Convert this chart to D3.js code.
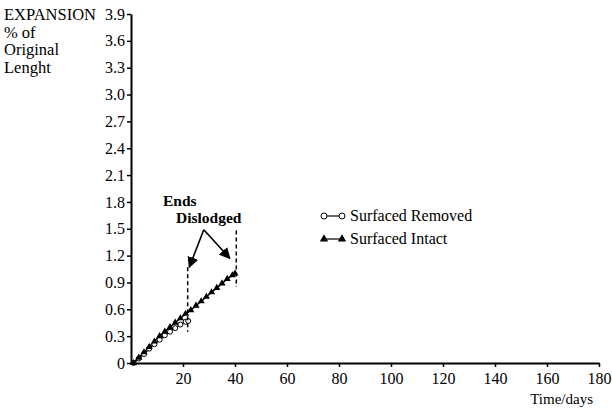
<!DOCTYPE html>
<html>
<head>
<meta charset="utf-8">
<script src="https://d3js.org/d3.v7.min.js"></script>
<style>
  body { margin: 0; background: #fff; }
</style>
</head>
<body>
<svg width="612" height="412" font-family="Liberation Serif"></svg>
<script>
// data
var removedDays = [1, 3, 5, 7, 9, 11, 13, 15, 17, 19, 21, 22];
var removedExp  = [0, 0.05, 0.10, 0.16, 0.21, 0.26, 0.31, 0.35, 0.39, 0.43, 0.46, 0.47];
var intactDays  = [1, 3, 5, 7, 9, 11, 13, 15, 17, 19, 21, 23, 25, 27, 29, 31, 33, 35, 37, 39, 40];
var intactExp   = [0, 0.06, 0.12, 0.18, 0.24, 0.30, 0.35, 0.40, 0.45, 0.50, 0.55, 0.59, 0.64, 0.69, 0.74, 0.79, 0.84, 0.89, 0.94, 0.98, 1.00];
var xTicks = [20, 40, 60, 80, 100, 120, 140, 160, 180];
var yTicks = [0, 0.3, 0.6, 0.9, 1.2, 1.5, 1.8, 2.1, 2.4, 2.7, 3.0, 3.3, 3.6, 3.9];
// "ends dislodged" markers: dashed drops and arrows
var dropDays = [21.8, 40.5];
var dropTop  = [1.07, 1.48];
var dropBot  = [0.35, 0.85];
var arrowApex = [28, 1.49];
var arrowEnds = [[22.4, 1.07], [38, 1.17]];
var yLabelLines = ["EXPANSION", "% of", "Original", "Lenght"];

var svg = d3.select("svg");
var x = d3.scaleLinear().domain([0, 180]).range([131, 599]);
var y = d3.scaleLinear().domain([0, 3.9]).range([363, 14]);
var serif = "Liberation Serif";

svg.append("defs").append("marker")
  .attr("id", "ah").attr("viewBox", "0 0 10 10")
  .attr("refX", 9).attr("refY", 5)
  .attr("markerWidth", 7).attr("markerHeight", 7)
  .attr("orient", "auto")
  .append("path").attr("d", "M0,0L10,5L0,10Z").attr("fill", "#000");

// axes
var xAxis = svg.append("g").attr("transform", "translate(0," + y(0) + ")")
  .call(d3.axisBottom(x).tickValues(xTicks).tickSizeOuter(0).tickSizeInner(4).tickPadding(6));
var yAxis = svg.append("g").attr("transform", "translate(" + x(0) + ",0)")
  .call(d3.axisLeft(y).tickValues(yTicks).tickSizeOuter(0).tickSizeInner(4).tickPadding(2)
    .tickFormat(function(d) { return d === 0 ? "0" : d3.format(".1f")(d); }));
[xAxis, yAxis].forEach(function(a) {
  a.attr("font-family", serif).attr("font-size", 16);
  a.select(".domain").attr("stroke", "#000").attr("stroke-width", 2);
  a.selectAll(".tick line").attr("stroke", "#000").attr("stroke-width", 1.5);
  a.selectAll("text").attr("fill", "#000");
});

svg.append("g").selectAll("text").data(yLabelLines).enter().append("text")
  .attr("x", 4).attr("y", function(d, i) { return 20 + i * 17.5; })
  .attr("font-size", 16.5).text(function(d) { return d; });

svg.append("text").attr("x", 593).attr("y", 404).attr("text-anchor", "end")
  .attr("font-size", 15).text("Time/days");

// series
var line = d3.line().x(function(d) { return x(d[0]); }).y(function(d) { return y(d[1]); });
var removed = removedDays.map(function(d, i) { return [d, removedExp[i]]; });
var intact = intactDays.map(function(d, i) { return [d, intactExp[i]]; });

svg.append("path").datum(removed).attr("d", line)
  .attr("fill", "none").attr("stroke", "#000").attr("stroke-width", 1.5);
svg.append("path").datum(intact).attr("d", line)
  .attr("fill", "none").attr("stroke", "#000").attr("stroke-width", 1.5);

svg.append("g").selectAll("circle").data(removed).enter().append("circle")
  .attr("cx", function(d) { return x(d[0]); })
  .attr("cy", function(d) { return y(d[1]); })
  .attr("r", 2.5).attr("fill", "#fff").attr("stroke", "#000").attr("stroke-width", 1);

var tri = d3.symbol().type(d3.symbolTriangle).size(22);
svg.append("g").selectAll("path").data(intact).enter().append("path")
  .attr("d", tri)
  .attr("transform", function(d) { return "translate(" + x(d[0]) + "," + y(d[1]) + ")"; })
  .attr("fill", "#000");

// dashed drops
svg.append("g").selectAll("line").data(dropDays).enter().append("line")
  .attr("x1", function(d) { return x(d); }).attr("x2", function(d) { return x(d); })
  .attr("y1", function(d, i) { return y(dropTop[i]); })
  .attr("y2", function(d, i) { return y(dropBot[i]); })
  .attr("stroke", "#000").attr("stroke-width", 1.5).attr("stroke-dasharray", "4,3");

// arrows
svg.append("g").selectAll("line").data(arrowEnds).enter().append("line")
  .attr("x1", x(arrowApex[0])).attr("y1", y(arrowApex[1]))
  .attr("x2", function(d) { return x(d[0]); })
  .attr("y2", function(d) { return y(d[1]); })
  .attr("stroke", "#000").attr("stroke-width", 1.6)
  .attr("marker-end", "url(#ah)");

svg.append("text").attr("x", 163).attr("y", 206)
  .attr("font-size", 15.5).attr("font-weight", "bold").text("Ends");
svg.append("text").attr("x", 176).attr("y", 223)
  .attr("font-size", 15.5).attr("font-weight", "bold").text("Dislodged");

// legend
var legend = svg.append("g");
legend.append("line").attr("x1", 324).attr("x2", 342).attr("y1", 216).attr("y2", 216)
  .attr("stroke", "#000").attr("stroke-width", 1.2);
legend.selectAll("circle").data([324, 342]).enter().append("circle")
  .attr("cx", function(d) { return d; }).attr("cy", 216).attr("r", 3)
  .attr("fill", "#fff").attr("stroke", "#000");
legend.append("text").attr("x", 350).attr("y", 221).attr("font-size", 16).text("Surfaced Removed");
legend.append("line").attr("x1", 324).attr("x2", 342).attr("y1", 239).attr("y2", 239)
  .attr("stroke", "#000").attr("stroke-width", 1.2);
legend.selectAll("path").data([324, 342]).enter().append("path")
  .attr("d", d3.symbol().type(d3.symbolTriangle).size(30))
  .attr("transform", function(d) { return "translate(" + d + ",239)"; })
  .attr("fill", "#000");
legend.append("text").attr("x", 350).attr("y", 244).attr("font-size", 16).text("Surfaced Intact");
</script>
</body>
</html>
